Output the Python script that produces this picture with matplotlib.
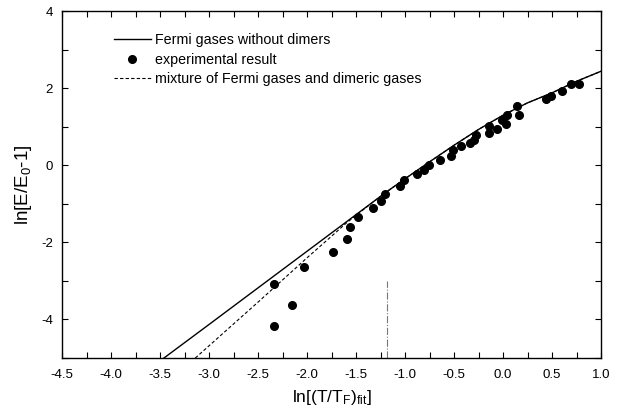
import numpy as np
import matplotlib
matplotlib.use("Agg")
import matplotlib.pyplot as plt
from matplotlib.ticker import MultipleLocator, FormatStrFormatter

plt.rcParams['font.family'] = ['Liberation Sans', 'DejaVu Sans']
plt.rcParams['mathtext.fontset'] = 'custom'
plt.rcParams['mathtext.rm'] = 'Liberation Sans'
plt.rcParams['mathtext.it'] = 'Liberation Sans'
plt.rcParams['axes.unicode_minus'] = False

# experimental points
exp_x = [-2.34, -2.34, -2.157, -2.035, -1.732, -1.59, -1.565, -1.48, -1.33, -1.245,
         -1.20, -1.055, -1.01, -0.876, -0.81, -0.76, -0.64, -0.527, -0.515, -0.425,
         -0.337, -0.297, -0.276, -0.147, -0.143, -0.06, -0.01, 0.028, 0.044, 0.14,
         0.16, 0.44, 0.49, 0.60, 0.69, 0.773]
exp_y = [-3.09, -4.18, -3.63, -2.64, -2.26, -1.90, -1.61, -1.35, -1.12, -0.92,
         -0.74, -0.54, -0.37, -0.235, -0.11, 0.02, 0.15, 0.24, 0.39, 0.49,
         0.58, 0.66, 0.78, 0.84, 1.01, 0.95, 1.18, 1.06, 1.30, 1.53,
         1.31, 1.71, 1.81, 1.93, 2.10, 2.12]

# Fermi gases without dimers
fermi_x = [-3.46, -3.0, -2.5, -2.0, -1.5, -1.2, -1.0, -0.75, -0.5, -0.25,
           0.0, 0.25, 0.5, 0.75, 1.0]
fermi_y = [-5.0, -4.13, -3.18, -2.23, -1.28, -0.71, -0.35, 0.09, 0.52, 0.93,
           1.30, 1.62, 1.88, 2.18, 2.44]

# mixture of Fermi gases and dimeric gases
mix_x = [-3.14, -2.5, -2.0, -1.75, -1.6, -1.5, -1.4, -1.2, -1.0, -0.75, -0.5, -0.25,
         0.0, 0.25, 0.5, 0.75, 1.0]
mix_y = [-5.0, -3.55, -2.40, -1.84, -1.50, -1.30, -1.10, -0.71, -0.35, 0.09, 0.52, 0.93,
         1.30, 1.62, 1.88, 2.18, 2.44]

# thin vertical marker
vline_x = -1.185
vline_y = [-5.0, -3.0]

fig = plt.figure(figsize=(6.22, 4.12), dpi=100)
ax = fig.add_axes([0.0997, 0.131, 0.8666, 0.842])

ax.plot(fermi_x, fermi_y, color='black', lw=1.0, label='Fermi gases without dimers')
ax.plot(exp_x, exp_y, 'o', color='black', ms=5.5, label='experimental result')
ax.plot(mix_x, mix_y, color='black', lw=0.8, ls=(0, (3, 2)),
        label='mixture of Fermi gases and dimeric gases')
ax.plot([vline_x, vline_x], vline_y, color='#777777', lw=0.8, ls='-.')

ax.set_xlim(-4.5, 1.0)
ax.set_ylim(-5, 4)
ax.xaxis.set_major_locator(MultipleLocator(0.5))
ax.xaxis.set_minor_locator(MultipleLocator(0.25))
ax.yaxis.set_major_locator(MultipleLocator(2))
ax.yaxis.set_minor_locator(MultipleLocator(1))
ax.xaxis.set_major_formatter(FormatStrFormatter('%.1f'))
ax.tick_params(which='both', direction='in', top=True, right=True, labelsize=9.5,
               length=4, width=0.8)
ax.tick_params(axis='x', pad=8)
ax.tick_params(axis='y', pad=6.5)
for s in ax.spines.values():
    s.set_linewidth(1.0)

ax.set_xlabel(r'ln[(T/T$_\mathrm{F}$)$_\mathrm{fit}$]', fontsize=12.5, labelpad=5)
ax.set_ylabel(r'ln[E/E$_\mathrm{0}$-1]', fontsize=13.5, labelpad=5)

ax.legend(loc='upper left', bbox_to_anchor=(0.085, 0.952), frameon=False, fontsize=10.3,
          handlelength=2.6, handletextpad=0.3, labelspacing=0.38, borderaxespad=0)

fig.savefig('out.png', dpi=100)
